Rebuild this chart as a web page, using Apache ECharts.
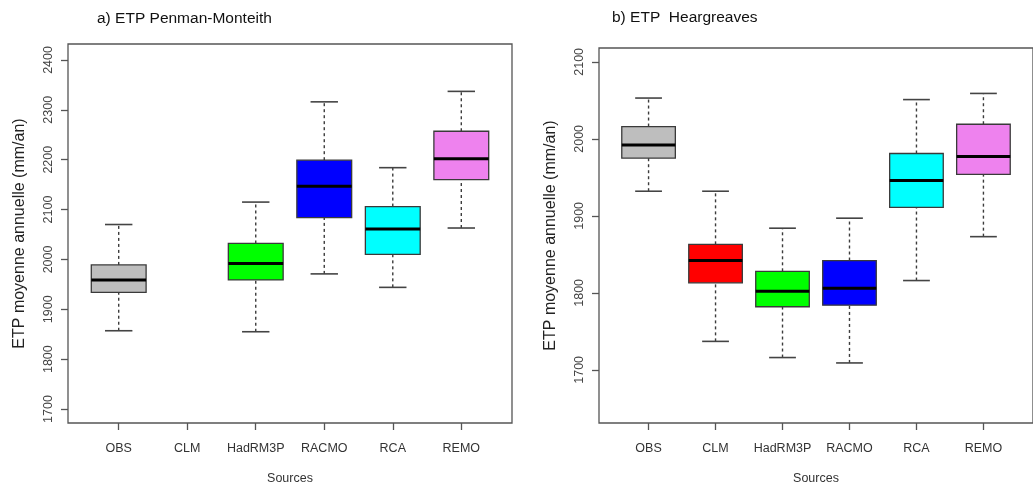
<!DOCTYPE html>
<html>
<head>
<meta charset="utf-8">
<script src="https://cdn.jsdelivr.net/npm/echarts@6/dist/echarts.min.js"></script>
<style>
html,body{margin:0;padding:0;background:#fff;}
#chart{width:1033px;height:490px;}
</style>
</head>
<body>
<div id="chart"></div>
<script>
// ---- data ----
const categories = ['OBS', 'CLM', 'HadRM3P', 'RACMO', 'RCA', 'REMO'];
const boxColors = ['#BEBEBE', '#FF0000', '#00FF00', '#0000FF', '#00FFFF', '#EE82EE'];

// a) ETP Penman-Monteith (CLM missing)
const pmLow    = [1857, null, 1855, 1971, 1944, 2063];
const pmQ1     = [1934, null, 1959, 2084, 2010, 2160];
const pmMedian = [1959, null, 1992, 2147, 2061, 2202];
const pmQ3     = [1989, null, 2032, 2199, 2106, 2257];
const pmHigh   = [2070, null, 2115, 2316, 2184, 2337];
const pmTicks  = [1700, 1800, 1900, 2000, 2100, 2200, 2300, 2400];

// b) ETP Heargreaves
const hgLow    = [1932, 1737, 1716, 1709, 1816, 1873];
const hgQ1     = [1975, 1813, 1782, 1784, 1911, 1954];
const hgMedian = [1992, 1842, 1802, 1806, 1946, 1977];
const hgQ3     = [2016, 1863, 1828, 1842, 1981, 2019];
const hgHigh   = [2053, 1932, 1884, 1897, 2051, 2059];
const hgTicks  = [1700, 1800, 1900, 2000, 2100];

function buildData(lo, q1, med, q3, hi) {
  const out = [];
  categories.forEach((c, i) => {
    if (lo[i] == null) return;
    out.push({ value: [i + 1, lo[i], q1[i], med[i], q3[i], hi[i]], itemStyle: { color: boxColors[i] } });
  });
  return out;
}

function renderBox(params, api) {
  const x = api.value(0);
  const lo = api.value(1), q1 = api.value(2), med = api.value(3), q3 = api.value(4), hi = api.value(5);
  const w = api.size([0.8, 0])[0];
  const pLo = api.coord([x, lo]);
  const pQ1 = api.coord([x, q1]);
  const pMed = api.coord([x, med]);
  const pQ3 = api.coord([x, q3]);
  const pHi = api.coord([x, hi]);
  const cx = pLo[0];
  const color = api.visual('color');
  const edge = '#3a3a3a';
  const wStyle = { stroke: '#3c3c3c', lineWidth: 1.4, lineDash: [3, 3] };
  const cStyle = { stroke: '#444', lineWidth: 1.6 };
  return {
    type: 'group',
    children: [
      { type: 'line', shape: { x1: cx, y1: pLo[1], x2: cx, y2: pQ1[1] }, style: wStyle },
      { type: 'line', shape: { x1: cx, y1: pQ3[1], x2: cx, y2: pHi[1] }, style: wStyle },
      { type: 'line', shape: { x1: cx - w / 4, y1: pLo[1], x2: cx + w / 4, y2: pLo[1] }, style: cStyle },
      { type: 'line', shape: { x1: cx - w / 4, y1: pHi[1], x2: cx + w / 4, y2: pHi[1] }, style: cStyle },
      { type: 'rect', shape: { x: cx - w / 2, y: pQ3[1], width: w, height: pQ1[1] - pQ3[1] },
        style: { fill: color, stroke: edge, lineWidth: 1.3 } },
      { type: 'line', shape: { x1: cx - w / 2, y1: pMed[1], x2: cx + w / 2, y2: pMed[1] },
        style: { stroke: '#000', lineWidth: 3 } }
    ]
  };
}

const FONT = 'Liberation Sans, Arial, sans-serif';

function xAxisCfg(gridIndex) {
  return {
    type: 'value', gridIndex, min: 0.26, max: 6.74,
    splitLine: { show: false },
    axisLine: { show: false },
    axisTick: { show: true, inside: false, length: 7, lineStyle: { color: '#555', width: 1.3 },
      customValues: [1, 2, 3, 4, 5, 6] },
    axisLabel: { customValues: [1, 2, 3, 4, 5, 6], margin: 19, color: '#333',
      fontFamily: FONT, fontSize: 12.5, formatter: v => categories[Math.round(v) - 1] },
    name: 'Sources', nameLocation: 'middle', nameGap: 49,
    nameTextStyle: { color: '#333', fontFamily: FONT, fontSize: 12.5 }
  };
}

function yAxisCfg(gridIndex, min, max, ticks) {
  return {
    type: 'value', gridIndex, min, max,
    splitLine: { show: false },
    axisLine: { show: false },
    axisTick: { show: true, inside: false, length: 7, lineStyle: { color: '#555', width: 1.3 }, customValues: ticks },
    axisLabel: { customValues: ticks, rotate: 90, margin: 13, color: '#444', fontFamily: FONT, fontSize: 12.5,
      formatter: v => String(Math.round(v)) },
    name: 'ETP moyenne annuelle (mm/an)', nameLocation: 'middle', nameRotate: 90, nameGap: 40,
    nameTextStyle: { color: '#222', fontFamily: FONT, fontSize: 16 }
  };
}

const chart = echarts.init(document.getElementById('chart'), null, { renderer: 'canvas' });
chart.setOption({
  backgroundColor: '#fff',
  animation: false,
  title: [
    { text: 'a) ETP Penman-Monteith', left: 97, top: 11, padding: 0,
      textStyle: { fontFamily: FONT, fontSize: 15.5, fontWeight: 'normal', color: '#111' } },
    { text: 'b) ETP  Heargreaves', left: 612, top: 10, padding: 0,
      textStyle: { fontFamily: FONT, fontSize: 15.5, fontWeight: 'normal', color: '#111' } }
  ],
  grid: [
    { left: 68, right: 521, top: 44, bottom: 64, show: true, borderColor: '#555', borderWidth: 1.3, backgroundColor: 'transparent' },
    { left: 599, right: -10, top: 48, bottom: 61, show: true, borderColor: '#555', borderWidth: 1.3, backgroundColor: 'transparent' }
  ],
  xAxis: [xAxisCfg(0), xAxisCfg(1)],
  yAxis: [yAxisCfg(0, 1672, 2432, pmTicks), yAxisCfg(1, 1631, 2118, hgTicks)],
  series: [
    { type: 'custom', xAxisIndex: 0, yAxisIndex: 0, renderItem: renderBox,
      encode: { x: 0, y: [1, 2, 3, 4, 5] }, data: buildData(pmLow, pmQ1, pmMedian, pmQ3, pmHigh) },
    { type: 'custom', xAxisIndex: 1, yAxisIndex: 1, renderItem: renderBox,
      encode: { x: 0, y: [1, 2, 3, 4, 5] }, data: buildData(hgLow, hgQ1, hgMedian, hgQ3, hgHigh) }
  ]
});
</script>
</body>
</html>
